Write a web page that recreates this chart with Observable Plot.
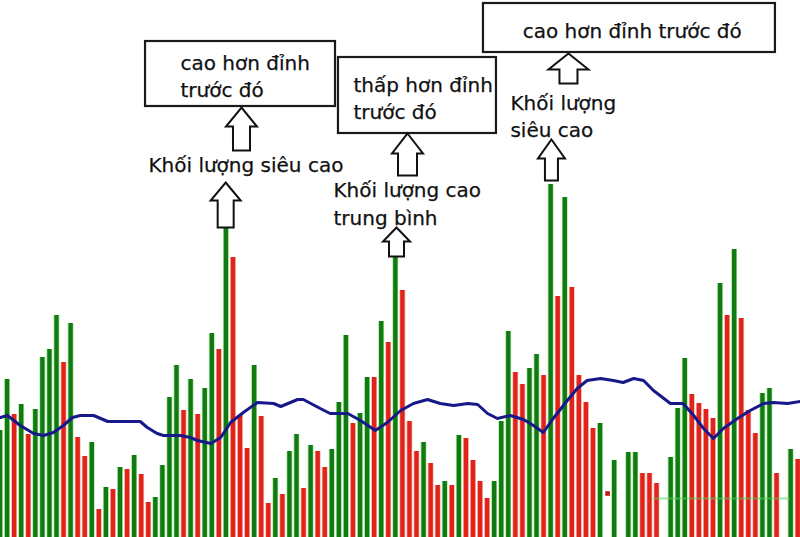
<!DOCTYPE html>
<html>
<head>
<meta charset="utf-8">
<script src="https://cdn.jsdelivr.net/npm/d3@7"></script>
<script src="https://cdn.jsdelivr.net/npm/@observablehq/plot@0.6"></script>
<style>
  html, body { margin: 0; padding: 0; background: #fff; overflow: hidden; }
  #chart svg { display: block; }
</style>
</head>
<body>
<div id="chart"></div>
<script>
// ---- Data (volume in chart units; null = no bar) ----
const volumes = [
  107,158,123,133,103,128,180,188,222,175,
  214,100,81,95,28,50,48,70,68,82,
  63,35,40,72,140,172,127,158,123,149,
  204,188,309,280,122,89,172,121,34,59,
  43,86,103,49,92,86,70,88,135,202,
  114,124,160,160,216,195,280,247,116,86,
  95,74,52,56,52,102,99,77,56,39,
  56,116,206,165,153,169,183,162,353,241,
  340,250,162,135,109,114,null,77,null,85,
  85,64,64,54,null,80,129,179,143,134,
  128,119,254,222,288,219,127,104,144,149,
  64,null,88,78
];
// g = up (green), r = down (red)
const directions = (
  "ggrgrggggr" + "grrgrgrgrg" + "rrggggrgrg" + "grgrrrgrrg" + "rggrgrrggg" +
  "rggrgrgrrr" + "grrgrgrrrr" + "gggrrggrgr" + "grrrrgrg-g" + "grrr-gggrr" +
  "rrgrgrrrgg" + "r-gr"
).split("");

// stray small red mark
const dotIndex = [86];
const dotValue = [44];

// moving-average line (bar position, value)
const maX = [0,1,2.8,4.7,6.1,7.5,8.9,10.2,11.3,13.2,14.2,15.2,19.8,20.8,22.2,23.1,25.5,26.9,27.9,29.8,31.2,32.6,34.4,36.4,38.7,39.7,42.1,42.9,45.3,46.7,49.2,51,53.1,54.8,56.7,58.5,60.5,62.3,64.2,66.2,67.6,69,70.4,72.2,74.1,75.5,76.9,78.3,80.3,81.7,83.1,85,86.8,88.2,89.7,91.1,92.5,94.9,96.7,98.2,99.6,101,102.4,104.4,106.2,108.1,109.5,111.5,113.3];
const maY = [120,122,112,104,102,105,112,120,122,122,119,116,116,110,104,102,102,100,97,94,100,115,125,135,134,131,138,138,129,124,124,117,107,115,127,134,138,134,132,134,133,124,119,122,118,112,105,119,137,149,157,159,157,155,159,157,147,134,134,122,109,99,109,119,127,134,135,134,136];

// annotation boxes (bar positions / chart units)
const boxX1 = [20.55, 47.88, 68.42];
const boxX2 = [47.46, 70.26, 109.78];
const boxY1 = [431, 404, 485];
const boxY2 = [496, 480, 534];

// annotation texts
const labelText = ["cao hơn đỉnh\ntrước đó", "thấp hơn đỉnh\ntrước đó", "cao hơn đỉnh trước đó",
                   "Khối lượng siêu cao", "Khối lượng cao\ntrung bình", "Khối lượng\nsiêu cao"];
const labelX = [25.5, 50.0, 89.5, 20.96, 47.17, 72.24];
const labelY = [463, 441, 508, 374, 335.5, 423];
const labelAnchor = ["start", "start", "middle", "start", "start", "start"];

// hollow up-arrows: tip position
const arrowX = [34.14, 31.9, 57.66, 56.1, 80.46, 78.05];
const arrowY = [430, 355, 404, 310, 484, 398];
// shape: head half-width, head height, shaft half-width, length
const arrowShape = [[15.5,19,8.5,43],[15,18,8,45],[15.5,20,9.5,42],[13.5,14,7.5,29],[20,16,9,30],[13.5,19,6.5,41]];

// ---- Build ----
const GREEN = "#127a12", RED = "#e0241c";
const GREEN_L = "#a8e8a0", RED_L = "#f6b9ad";
const bars = volumes.map((v, i) => ({i, v, d: directions[i]})).filter(d => d.v != null);
const ma = maX.map((x, k) => ({x, y: maY[k]}));
const boxes = boxX1.map((x1, k) => ({x1, x2: boxX2[k], y1: boxY1[k], y2: boxY2[k]}));
const labels = labelText.map((t, k) => ({t, x: labelX[k], y: labelY[k], a: labelAnchor[k]}));
const dots = dotIndex.map((x, k) => ({x, y: dotValue[k]}));

function arrowSymbol([hw, hh, sw, len]) {
  return {
    draw(ctx) {
      ctx.moveTo(0, 0);
      ctx.lineTo(hw, hh);
      ctx.lineTo(sw, hh);
      ctx.lineTo(sw, len);
      ctx.lineTo(-sw, len);
      ctx.lineTo(-sw, hh);
      ctx.lineTo(-hw, hh);
      ctx.closePath();
    }
  };
}

const FONT = "DejaVu Sans, Liberation Sans, sans-serif";

const marks = [
  // light fringe of bars
  Plot.rect(bars, {x1: d => d.i - 0.5, x2: d => d.i + 0.5, y1: 0, y2: "v",
    fill: d => d.d === "g" ? GREEN_L : RED_L, insetLeft: 0.6, insetRight: 0.6}),
  // bars
  Plot.rect(bars, {x1: d => d.i - 0.5, x2: d => d.i + 0.5, y1: 0, y2: "v",
    fill: d => d.d === "g" ? GREEN : RED, insetLeft: 1.4, insetRight: 1.3}),
  Plot.dot(dots, {x: "x", y: "y", symbol: "square", r: 2.6, fill: "#c01818"}),
  // faint artifact line at the lower right
  Plot.ruleY([39], {x1: 92.5, x2: 111.9, stroke: "#55d055", strokeWidth: 2, strokeOpacity: 0.55}),
  // moving average
  Plot.line(ma, {x: "x", y: "y", stroke: "#17188a", strokeWidth: 3}),
  // boxes
  Plot.rect(boxes, {x1: "x1", x2: "x2", y1: "y1", y2: "y2", fill: "white", stroke: "#1a1a1a", strokeWidth: 2.2}),
  // arrows
  ...arrowX.map((x, k) => Plot.dot([{x, y: arrowY[k]}], {x: "x", y: "y",
    symbol: arrowSymbol(arrowShape[k]), fill: "white", stroke: "#111", strokeWidth: 2})),
  // texts
  ...["start", "middle"].map(anchor => Plot.text(labels.filter(l => l.a === anchor), {
    x: "x", y: "y", text: "t", textAnchor: anchor, lineAnchor: "middle",
    lineHeight: 1.38, fontSize: 20, fontFamily: FONT, fill: "#111", stroke: "#111", strokeWidth: 0.25}))
];

const chart = Plot.plot({
  width: 800,
  height: 537,
  margin: 0,
  x: {type: "linear", domain: [-0.5, 113.5], range: [-3.55, 801.2], axis: null},
  y: {domain: [0, 537], range: [537, 0], axis: null},
  color: {type: "identity"},
  style: {background: "#fff", fontFamily: FONT},
  marks
});
document.getElementById("chart").appendChild(chart);
</script>
</body>
</html>
